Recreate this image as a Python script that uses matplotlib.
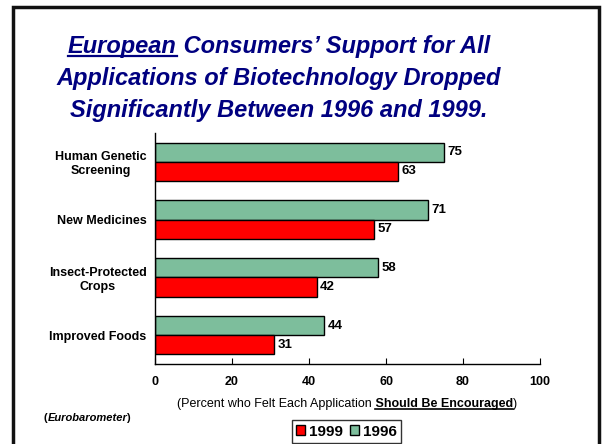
import matplotlib
matplotlib.use("Agg")
import matplotlib.pyplot as plt
from matplotlib.patches import Patch, Rectangle
from matplotlib.lines import Line2D
import numpy as np

plt.rcParams['font.family'] = ['Liberation Sans', 'DejaVu Sans']

# data
categories = ["Human Genetic\nScreening", "New Medicines", "Insect-Protected\nCrops", "Improved Foods"]
y1996 = [75, 71, 58, 44]
y1999 = [63, 57, 42, 31]
xticks = [0, 20, 40, 60, 80, 100]

green = "#7DBE9C"
red = "#FF0000"
navy = "#000080"

W, H = 602, 444
fig = plt.figure(figsize=(W / 100, H / 100), dpi=100)

def fx(px):
    return px / W

def fy(py):
    return 1 - py / H

# slide frame
fig.patches.append(Rectangle((fx(13), fy(460)), fx(586), (460 - 7) / H, transform=fig.transFigure,
                             fill=False, edgecolor="#111111", linewidth=2.5))

ax = fig.add_axes([fx(155), fy(364), fx(385), 231 / H])
pos = np.arange(len(categories))
h = 1 / 3
b96 = ax.barh(pos - h / 2, y1996, height=h, color=green, edgecolor="black", linewidth=1, label="1996")
b99 = ax.barh(pos + h / 2, y1999, height=h, color=red, edgecolor="black", linewidth=1, label="1999")
ax.bar_label(b96, padding=2.5, fontsize=9.5, fontweight="bold")
ax.bar_label(b99, padding=2.5, fontsize=9.5, fontweight="bold")

ax.set_ylim(3.5, -0.5)
ax.set_xlim(0, 100)
ax.set_xticks(xticks)
ax.set_yticks(pos)
ax.set_yticklabels(categories, fontsize=9, fontweight="bold", multialignment="center")
ax.tick_params(axis="y", length=0, pad=6)
ax.tick_params(axis="x", direction="in", length=4, pad=8.5, labelsize=9)
for lab in ax.get_xticklabels():
    lab.set_fontweight("bold")
ax.spines["top"].set_visible(False)
ax.spines["right"].set_visible(False)
ax.spines["left"].set_linewidth(1)
ax.spines["bottom"].set_linewidth(1)

# title lines
tprops = dict(fontsize=17, fontweight="bold", fontstyle="italic", color=navy, va="center")
t1a = fig.text(fx(60), fy(47), "European", ha="left", **tprops)
t1b = fig.text(0, 0, " Consumers\u2019 Support for All", ha="left", **tprops)
fig.text(fx(279), fy(79), "Applications of Biotechnology Dropped", ha="center", **tprops)
fig.text(fx(279), fy(111), "Significantly Between 1996 and 1999.", ha="center", **tprops)

# x label pieces
lprops = dict(fontsize=9, va="center")
l1 = fig.text(fx(170), fy(404), "(Percent who Felt Each Application", ha="left", **lprops)
l2 = fig.text(0, 0, " Should Be Encouraged", ha="left", fontweight="bold", **lprops)
l3 = fig.text(0, 0, ")", ha="left", **lprops)

# source
e1 = fig.text(fx(42), fy(418), "(", ha="left", fontsize=8, fontweight="bold", va="center")
e2 = fig.text(0, 0, "Eurobarometer", ha="left", fontsize=8, fontweight="bold", fontstyle="italic", va="center")
e3 = fig.text(0, 0, ")", ha="left", fontsize=8, fontweight="bold", va="center")

def center_row(pieces, cx, yp, kerns=None):
    fig.canvas.draw()
    r = fig.canvas.get_renderer()
    widths = [t.get_window_extent(r).width for t in pieces]
    if kerns:
        widths = [w + k for w, k in zip(widths, kerns)]
    x = cx - sum(widths) / 2
    for t, w in zip(pieces, widths):
        t.set_position((x / W, fy(yp)))
        x += w

center_row([t1a, t1b], 279, 47)
center_row([l1, l2, l3], 347, 404)
center_row([e1, e2, e3], 87, 418, kerns=[0, -1, 0])

fig.canvas.draw()
r = fig.canvas.get_renderer()

def underline(t, color, lw, off, lead=0):
    bb = t.get_window_extent(r)
    x0 = bb.x0 + lead
    fig.lines.append(Line2D([x0 / W, bb.x1 / W], [(bb.y0 + off) / H] * 2,
                            transform=fig.transFigure, color=color, linewidth=lw))

underline(t1a, navy, 1.6, 2)
tmp = fig.text(0, 0, "Should Be Encouraged", fontsize=9, fontweight="bold")
lead = l2.get_window_extent(r).width - tmp.get_window_extent(r).width
tmp.set_visible(False)
underline(l2, "black", 1.2, 1.5, lead)

handles = [Patch(facecolor=red, edgecolor="black"), Patch(facecolor=green, edgecolor="black")]
leg = fig.legend(handles, ["1999", "1996"], loc="upper center", bbox_to_anchor=(fx(346.5), fy(420)), ncol=2,
                 prop={"weight": "bold", "size": 11}, frameon=True, fancybox=False,
                 edgecolor="black", handlelength=0.6, handleheight=0.6, handletextpad=0.25,
                 columnspacing=0.45, borderpad=0.3, borderaxespad=0)
leg.get_frame().set_linewidth(1)

fig.savefig("out.png", dpi=100)
